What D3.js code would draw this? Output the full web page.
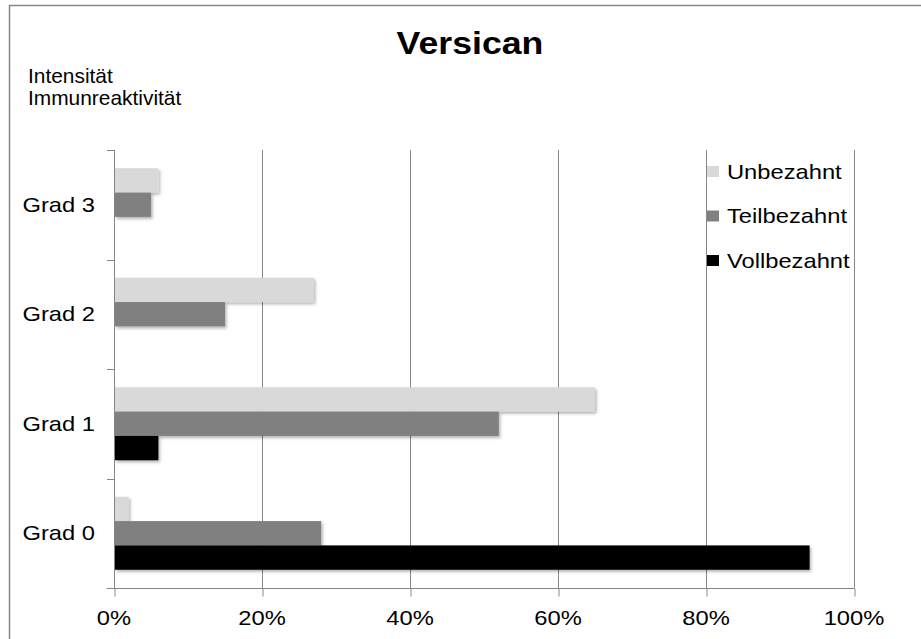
<!DOCTYPE html>
<html>
<head>
<meta charset="utf-8">
<script src="https://cdn.jsdelivr.net/npm/d3@7"></script>
<style>
  html, body { margin: 0; padding: 0; background: #fff; }
  svg { display: block; }
  text { font-family: "Liberation Sans", Arial, sans-serif; fill: #000; }
</style>
</head>
<body>
<svg id="chart" width="921" height="639"></svg>
<script>
// ---- data ----
const categories = ["Grad 0", "Grad 1", "Grad 2", "Grad 3"];
const seriesNames = ["Unbezahnt", "Teilbezahnt", "Vollbezahnt"];
const unbezahnt   = [2, 65, 27, 6];
const teilbezahnt = [28, 52, 15, 5];
const vollbezahnt = [94, 6, 0, 0];
const xTicks = [0, 20, 40, 60, 80, 100];
const title = "Versican";
const yTitleLines = ["Intensität", "Immunreaktivität"];

// ---- layout ----
const W = 921, H = 639;
const SX = 1.13; // horizontal text stretch of the reference
const plot = { left: 114, right: 854, top: 150, bottom: 588 };
const colors = ["#d9d9d9", "#808080", "#000000"];
const gridColor = "#868686";
const FS = 21;

const svg = d3.select("#chart");

const defs = svg.append("defs");
const f = defs.append("filter").attr("id", "shadow")
  .attr("x", "-5%").attr("y", "-20%").attr("width", "115%").attr("height", "160%");
f.append("feDropShadow").attr("dx", 1.5).attr("dy", 2).attr("stdDeviation", 1.5)
  .attr("flood-color", "#000").attr("flood-opacity", 0.3);

// outer border
svg.append("rect").attr("x", 9.5).attr("y", 5.5).attr("width", W + 20).attr("height", H + 20)
  .attr("fill", "#fff").attr("stroke", gridColor).attr("stroke-width", 1.5);

const x = d3.scaleLinear().domain([0, 100]).range([plot.left, plot.right]);
const y = d3.scaleBand().domain(categories.slice().reverse()).range([plot.top, plot.bottom]).padding(0);
const bw = y.bandwidth();
const inner = d3.scaleBand().domain(seriesNames).range([bw / 6, bw * 5 / 6]).padding(0);

function txt(xp, yp, s, anchor, size, weight, sx) {
  return svg.append("text")
    .attr("transform", `translate(${xp},${yp}) scale(${sx || SX},1)`)
    .attr("text-anchor", anchor || "start")
    .style("font-size", (size || FS) + "px")
    .style("font-weight", weight || "normal")
    .text(s);
}

// gridlines
svg.append("g").selectAll("line").data(xTicks.filter(d => d > 0)).join("line")
  .attr("x1", d => x(d) + 0.5).attr("x2", d => x(d) + 0.5)
  .attr("y1", plot.top).attr("y2", plot.bottom)
  .attr("stroke", gridColor).attr("stroke-width", 1);

// bars
const series = [unbezahnt, teilbezahnt, vollbezahnt];
series.forEach((vals, si) => {
  svg.append("g").attr("filter", "url(#shadow)")
    .selectAll("rect").data(categories.map((c, i) => ({ c, v: vals[i] })).filter(d => d.v > 0))
    .join("rect")
    .attr("x", x(0) + 1)
    .attr("y", d => y(d.c) + inner(seriesNames[si]))
    .attr("width", d => x(d.v) - x(0) - 1)
    .attr("height", inner.bandwidth())
    .attr("fill", colors[si]);
});

// x axis
const xAxis = d3.axisBottom(x).tickValues(xTicks).tickSize(8).tickFormat("");
const gx = svg.append("g").attr("transform", `translate(0.5,${plot.bottom + 0.5})`).call(xAxis);
gx.select(".domain").attr("stroke", gridColor).attr("d", `M${plot.left - 8},0H${plot.right}`);
gx.selectAll(".tick line").attr("stroke", gridColor);
xTicks.forEach(t => txt(x(t), 625, t + "%", "middle"));

// y axis
svg.append("line").attr("x1", plot.left + 0.5).attr("x2", plot.left + 0.5)
  .attr("y1", plot.top).attr("y2", plot.bottom).attr("stroke", gridColor);
const bounds = categories.map(c => y(c)).concat([plot.bottom]);
svg.append("g").selectAll("line").data(bounds).join("line")
  .attr("x1", plot.left - 7).attr("x2", plot.left)
  .attr("y1", d => Math.round(d) + 0.5).attr("y2", d => Math.round(d) + 0.5)
  .attr("stroke", gridColor);
categories.forEach(c => txt(95, y(c) + bw / 2 + 7, c, "end"));

// titles
txt(470, 53.5, title, "middle", 30.5, "bold", 1.17);
yTitleLines.forEach((l, i) => txt(28, 83 + i * 21.7, l, "start", 20.5, "normal", 1.02));

// legend
seriesNames.forEach((n, i) => {
  const ly = 166 + i * 44.5;
  svg.append("rect").attr("x", 707).attr("y", ly).attr("width", 12).attr("height", 11).attr("fill", colors[i]);
  txt(727, ly + 12.5, n, "start");
});
</script>
</body>
</html>
